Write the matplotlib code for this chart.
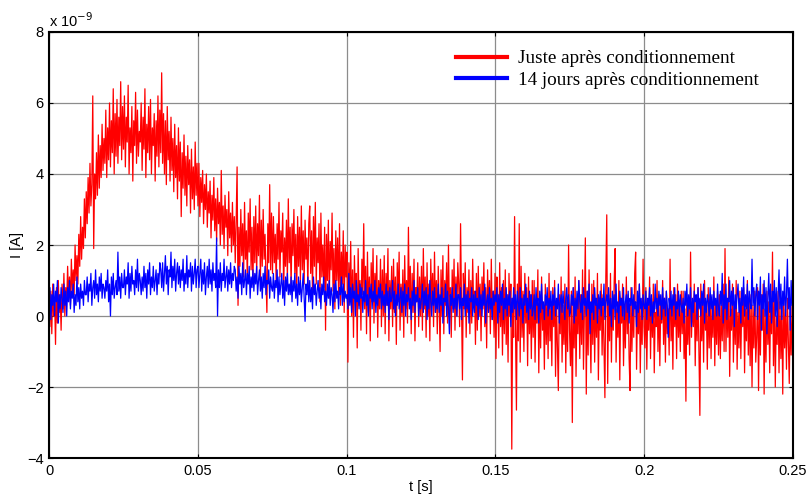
import numpy as np
import matplotlib
matplotlib.use("Agg")
import matplotlib.pyplot as plt

juste_apres = [
    0.4, -0.3, 0.7, -0.5, 0.9, 0.0, 0.5, -0.8, 0.8, -0.2, 1.0, 0.1, 0.6, -0.4, 0.9, 0.2, 1.2, 0.0, 0.8, 0.4,
    1.4, 0.5, 1.1, 0.3, 1.6, 0.7, 1.3, 0.6, 2.0, 1.0, 1.7, 0.9, 2.3, 1.4, 2.8, 1.6, 2.5, 1.9, 3.3, 2.2,
    3.5, 2.6, 3.9, 2.9, 4.3, 3.1, 3.7, 6.2, 1.9, 4.0, 3.3, 4.6, 3.4, 5.1, 3.6, 4.8, 3.9, 5.4, 4.1, 5.0,
    4.3, 5.8, 3.9, 5.3, 4.4, 6.0, 4.2, 5.5, 4.6, 6.4, 4.0, 5.7, 4.5, 6.1, 4.3, 5.6, 4.8, 6.6, 4.4, 5.9,
    4.7, 6.2, 4.2, 5.6, 4.9, 6.5, 4.0, 5.3, 4.6, 5.9, 3.8, 5.5, 4.8, 6.3, 4.3, 5.8, 4.5, 5.2, 4.9, 6.0,
    4.1, 5.6, 4.7, 6.4, 3.9, 5.4, 4.6, 5.9, 4.4, 6.1, 4.0, 5.3, 4.8, 5.7, 3.8, 5.5, 4.5, 6.2, 4.2, 5.8,
    4.6, 6.85, 4.3, 5.7, 4.0, 5.5, 3.7, 5.9, 4.4, 5.2, 3.8, 5.6, 4.1, 5.0, 3.5, 5.4, 3.9, 4.8, 3.3, 5.3,
    3.8, 4.9, 2.8, 4.6, 3.6, 5.1, 3.4, 4.5, 3.1, 4.8, 3.7, 4.4, 2.9, 4.7, 3.3, 4.2, 3.0, 4.9, 3.4, 4.3,
    3.1, 4.3, 2.8, 3.9, 3.2, 4.1, 2.6, 3.7, 3.0, 4.0, 2.5, 3.5, 2.9, 3.8, 2.2, 3.4, 2.7, 3.9, 2.4, 3.3,
    2.1, 3.6, 2.6, 3.2, 2.0, 4.1, 2.3, 3.1, 1.9, 3.4, 2.5, 3.0, 1.7, 3.5, 2.2, 2.9, 1.8, 3.2, 2.0, 2.8,
    1.5, 2.7, 4.2, 0.3, 2.5, 1.4, 3.0, 1.7, 2.6, 1.1, 3.2, 1.6, 2.4, 1.0, 2.9, 1.8, 3.3, 1.3, 2.5, 0.9,
    2.8, 1.5, 3.1, 1.2, 2.6, 1.7, 3.4, 1.0, 2.7, 1.4, 3.0, 1.6, 2.3, 1.1, 0.1, 2.6, 1.5, 3.7, 1.3, 2.9,
    1.2, 2.8, 1.5, 2.3, 0.9, 2.6, 1.6, 3.2, 1.1, 2.4, 1.8, 2.9, 0.7, 2.2, 1.4, 2.7, 1.0, 3.3, 1.5, 2.5,
    0.8, 2.6, 1.7, 3.0, 1.2, 2.3, 0.6, 2.8, 1.4, 2.5, 1.0, 3.1, 1.3, 2.4, 0.9, 2.7, 1.6, 2.2, 0.8, 2.6,
    3.1, 1.2, 2.4, 0.6, 2.8, 1.4, 3.2, 0.9, 2.2, 1.5, 2.6, 0.4, 2.9, 1.1, 2.0, 0.8, 2.5, -0.4, 2.3, 1.0,
    2.7, 0.5, 2.1, 1.3, 2.9, 0.7, 1.9, 0.2, 2.4, 1.0, 2.2, 0.6, 2.6, 0.3, 1.8, 0.9, 2.4, 0.1, 2.0, 1.1,
    1.8, -1.3, 1.5, 0.4, 2.1, 0.0, 1.3, -0.6, 1.7, 0.5, 1.2, -0.9, 1.9, 0.3, 1.0, -0.4, 1.6, 0.6, 2.6, 0.2,
    1.4, -0.5, 1.8, 0.1, 1.1, -0.7, 1.5, 0.4, 1.9, -0.2, 1.2, 0.5, 1.7, -0.6, 1.0, 0.2, 1.6, -0.3, 1.3, 0.0,
    1.7, -0.5, 1.2, 0.3, 1.9, -0.7, 1.0, 0.2, 1.4, -0.3, 1.6, 0.1, 1.1, -0.8, 1.5, 0.4, 1.8, -0.4, 0.9, 0.0,
    1.3, -0.6, 1.7, 0.2, 1.0, -0.2, 2.5, 0.3, 1.4, -0.5, 1.2, 0.1, 1.6, -0.7, 0.8, 0.4, 1.5, -0.3, 1.1, 0.0,
    1.4, -0.4, 1.9, 0.2, 1.1, -0.6, 1.5, 0.0, 0.9, -0.7, 1.6, 0.3, 1.2, -0.3, 1.8, 0.1, 1.0, -0.5, 1.4, 0.4,
    -1.0, 1.3, 0.0, 1.7, -0.5, 1.0, 0.3, 1.5, -0.2, 2.0, 0.1, 0.8, -0.6, 1.3, 0.2, 1.6, -0.4, 1.1, 0.0, 1.5,
    0.9, -0.3, 2.6, 0.4, -1.8, 1.2, 0.2, 1.5, -0.6, 0.8, 0.1, 1.3, -0.5, 1.0, -0.2, 1.6, 0.3, 0.7, -0.8, 1.2,
    -0.4, 1.4, 0.0, 0.9, -0.7, 1.1, 0.2, 1.5, -0.3, 0.8, -0.9, 1.3, 0.1, 1.0, -0.5, 1.6, -0.1, 0.7, -0.6, 1.2,
    -1.2, 1.1, 0.4, -0.9, 1.5, -0.3, 0.8, -1.1, 1.0, -0.5, 1.3, -0.8, 0.6, -1.3, 1.2, 0.0, 0.9, -3.75, 0.5, -0.6,
    2.8, -0.4, -2.65, 0.9, -0.7, 2.6, -1.3, 1.4, -0.6, 0.7, -1.0, 1.2, -0.2, 0.8, -1.4, 1.1, -0.5, 0.6, -1.2, 1.0,
    -0.6, 1.0, -1.3, 0.4, -0.2, 1.3, -1.6, 0.6, -0.9, 1.1, -0.4, 0.3, -1.5, 0.9, -0.8, 0.5, -1.2, 1.2, -0.7, 0.2,
    -1.4, 0.8, -0.3, 1.0, -1.7, 0.4, -0.9, -2.1, 0.6, -0.5, 1.1, -1.3, 0.3, -0.8, 0.9, -1.6, 0.5, -1.0, 2.0, -0.4,
    -1.4, 0.7, -3.0, 0.8, -0.9, 1.1, -1.7, 0.4, -0.5, 1.0, -1.2, 0.6, -0.8, 1.3, -1.5, 0.2, 2.2, -2.2, 0.7, -1.1,
    1.3, -0.3, -1.6, 0.9, -0.8, 1.0, -1.3, 0.5, -0.6, 1.2, -1.8, 0.3, -0.4, 0.9, -1.1, 0.6, -0.9, -2.3, 1.1, 2.85,
    -1.9, 0.6, -0.7, 1.2, -1.3, 0.5, -0.4, 1.0, 1.9, -1.3, 0.2, -0.6, 1.0, -1.8, 0.5, -0.2, 0.9, -1.4, 0.3, -0.9,
    1.1, -0.5, 0.6, -1.2, -2.1, 0.8, -1.0, 0.4, -0.6, 1.2, 1.8, -1.5, 0.3, -0.5, 0.9, -1.6, 0.2, -0.8, 1.6, -0.3,
    -0.9, 0.8, -1.5, 0.3, -0.4, 1.1, -1.2, 0.5, -0.6, 0.9, -1.6, 0.1, -0.3, 1.0, -1.0, 0.6, -1.4, 0.4, -0.2, 1.0,
    -0.8, 0.5, -1.3, 0.7, -0.5, 0.2, -1.1, 1.6, -0.7, 0.4, -1.5, 0.8, -0.3, 0.6, -1.2, 0.9, -0.6, 0.3, -1.0, 0.7,
    -0.5, 0.7, -1.2, 0.2, -2.4, 0.6, -0.8, 0.4, -1.1, 1.8, -0.6, 0.4, -0.3, 0.9, -1.4, 0.5, -0.7, 0.8, -1.0, -2.8,
    0.9, -0.7, 0.5, -1.3, 1.0, -0.4, 0.2, -1.5, 0.8, -0.9, 0.6, -1.2, 0.3, -0.6, 1.1, -1.4, 0.4, -0.8, 0.7, -1.1,
    0.6, -1.2, 0.3, -0.7, 0.9, -1.0, 1.9, -1.0, 0.5, -0.6, 1.1, -1.7, 0.2, -0.4, 0.9, -1.3, 0.4, -0.8, 1.0, -1.5,
    0.1, -0.9, 0.7, -1.2, 0.5, -0.3, 0.8, -1.6, 0.2, -0.7, 1.0, -1.1, 0.4, -1.4, 0.6, -2.0, 0.3, -0.9, 0.7, -1.3,
    -0.6, 0.8, -2.1, 0.3, -1.1, 0.6, -0.4, 0.9, -2.2, 0.2, -1.3, 0.7, -0.8, 0.4, -1.6, 0.5, -0.5, 1.8, -1.4, 0.5,
    -2.0, 0.0, -0.8, 0.7, -1.6, 0.4, -1.2, 0.3, -2.2, 0.6, -0.9, 0.2, -1.5, 0.5, -0.7, -1.9, 0.1, -1.1, 0.3, -1.3,
]

quatorze_jours = [
    0.2, 0.8, -0.1, 0.6, 0.3, 0.9, 0.0, 0.7, 0.4, 1.0, -0.2, 0.6, 0.2, 0.8, 0.5, 0.1, 0.9, 0.3, 0.7, 0.0,
    0.8, 0.4, 1.0, 0.2, 0.7, 0.5, 0.9, 0.1, 0.6, 0.3, 1.1, 0.4, 0.8, 0.2, 0.9, 0.5, 0.7, 0.3, 1.0, 0.6,
    0.6, 1.1, 0.4, 0.9, 0.7, 1.2, 0.3, 0.8, 1.0, 0.5, 1.3, 0.6, 0.9, 0.4, 1.1, 0.7, 1.2, 0.5, 0.9, 0.8,
    0.5, 1.0, 0.7, 1.3, 0.4, 0.9, 0.0, 1.1, 0.6, 1.2, 0.5, 0.8, 1.0, 0.6, 1.8, 0.7, 1.1, 0.5, 1.2, 0.8,
    0.8, 1.3, 0.6, 1.1, 0.9, 1.5, 0.5, 1.2, 0.7, 1.4, 0.9, 1.0, 0.6, 1.3, 0.8, 1.6, 0.7, 1.2, 1.0, 0.6,
    1.1, 0.7, 1.4, 0.8, 1.2, 0.5, 1.3, 0.9, 1.5, 0.6, 1.1, 0.8, 1.4, 0.7, 1.0, 1.3, 0.6, 1.2, 0.9, 1.5,
    1.3, 0.8, 1.5, 0.7, 1.2, 1.7, 0.9, 1.4, 0.6, 1.3, 1.1, 1.8, 0.8, 1.4, 1.0, 1.6, 0.7, 1.2, 1.5, 0.9,
    1.4, 0.8, 1.3, 1.0, 1.6, 0.7, 1.2, 0.9, 1.7, 0.8, 1.3, 1.1, 1.5, 0.7, 1.4, 0.9, 1.2, 1.6, 0.8, 1.3,
    1.4, 0.8, 1.2, 1.6, 0.7, 1.3, 0.9, 1.5, 0.6, 1.1, 1.4, 0.8, 1.6, 0.9, 1.3, 0.7, 1.5, 1.0, 1.2, 0.8,
    2.2, 0.0, 1.3, 0.8, 1.5, 0.7, 1.2, 1.0, 1.6, 0.8, 1.1, 1.4, 0.7, 1.3, 0.9, 1.5, 0.8, 1.2, 1.0, 1.4,
    1.3, 0.7, 1.1, 0.5, 1.4, 0.9, 1.2, 0.6, 1.5, 0.8, 1.0, 1.3, 0.6, 1.2, 0.9, 1.4, 0.5, 1.1, 0.8, 1.3,
    0.7, 1.2, 0.9, 1.4, 0.6, 1.0, 1.3, 0.7, 1.1, 0.5, 1.2, 0.8, 1.4, 0.6, 1.0, 0.9, 1.3, 0.5, 1.1, 0.8,
    0.7, 1.2, 0.5, 1.0, 0.8, 1.3, 0.4, 1.1, 0.6, 0.9, 1.2, 0.5, 1.0, 0.3, 1.1, 0.7, 1.2, 0.6, 0.9, 0.6,
    1.1, 0.4, 1.0, 0.7, 1.2, 0.5, 0.9, 0.3, 1.1, 0.6, 1.0, 0.4, 0.8, 1.2, 0.5, -0.15, 0.9, 0.6, 1.1, 0.4,
    1.0, 0.4, 0.8, 0.2, 1.1, 0.6, 0.9, 0.3, 0.7, 1.0, 0.5, 0.8, 0.2, 0.9, 0.6, 1.1, 0.4, 0.7, 0.3, 0.9,
    0.5, 1.0, 0.3, 0.8, 0.6, 0.1, 0.9, 0.4, 1.0, 0.5, 0.7, 0.2, 0.8, 0.6, 1.1, 0.3, 0.9, 0.4, 0.7, 0.5,
    0.6, 0.2, 1.2, 0.3, 0.8, 0.1, 0.9, 0.5, 0.7, 0.0, 1.0, 0.4, 0.6, 0.2, 0.9, 0.5, 0.8, 0.1, 0.7, 0.4,
    1.0, 0.3, 0.6, 0.0, 0.8, 0.5, 0.9, 0.2, 0.7, 0.4, 1.0, 0.1, 0.6, 0.3, 0.8, 0.5, 0.9, 0.2, 0.7, 0.3,
    0.6, 0.1, 0.9, 0.3, 0.7, -0.1, 0.8, 0.4, 0.5, 1.0, 0.2, 0.7, 0.0, 0.6, 0.3, 0.9, 0.2, 0.5, 0.8, 0.1,
    0.7, 0.3, 0.9, 0.0, 0.6, 0.4, 0.8, 0.2, 0.5, -0.1, 0.7, 0.3, 1.0, 0.1, 0.6, 0.4, 0.8, 0.0, 0.5, 0.2,
    0.5, 0.9, 0.1, 0.7, 0.3, 0.8, -0.1, 0.6, 0.2, 1.0, 0.4, 0.0, 0.7, 0.3, 0.8, 0.1, 0.5, 0.2, 0.9, 0.1,
    0.6, 0.3, 0.8, -0.2, 0.5, 0.4, 0.9, 0.0, 0.7, 0.2, -0.5, 0.6, 0.3, 0.8, 0.1, 0.5, 0.2, 0.9, 0.0, 0.6,
    0.6, 0.2, 0.8, -0.1, 0.5, 0.3, 0.9, 0.0, 0.6, 0.2, 0.7, -0.2, 0.5, 0.4, 0.8, 0.0, 0.6, 0.1, 0.7, 0.3,
    0.5, -0.1, 0.8, 0.2, 0.6, 0.0, 0.7, 0.3, 0.9, -0.2, 0.4, 0.6, 0.1, 0.8, 0.2, 0.5, -0.1, 0.7, 0.3, 0.6,
    0.4, 0.8, -0.2, 0.6, 0.1, 0.7, 0.3, 0.9, -0.1, 0.5, 0.2, 0.8, 0.0, 0.6, 0.3, 0.7, -0.3, 0.5, 0.1, 0.8,
    0.2, 0.6, -0.1, 0.7, 0.4, 0.0, 0.8, 0.2, 0.5, -0.2, 0.6, 0.3, 0.9, 0.1, 0.5, -0.1, 0.7, 0.2, 0.6, 0.0,
    0.2, 0.6, -0.1, 0.8, 0.3, 0.5, -0.2, 0.7, 0.1, 0.9, 0.2, 0.4, -0.1, 0.6, 0.3, 0.8, 0.0, 0.5, 0.2, 0.7,
    -0.1, 0.6, 0.3, 0.8, 0.0, 0.5, 0.2, 0.9, -0.2, 0.4, 0.6, 0.1, 0.7, 0.3, -0.1, 0.5, 0.8, 0.2, 0.6, 0.0,
    0.1, 0.6, 0.3, 0.8, -0.2, 0.5, 0.0, 0.7, 0.2, 1.0, 0.4, 0.1, 0.6, -0.1, 0.8, 0.3, 0.5, 0.0, 0.7, 0.2,
    0.9, -0.5, 0.4, 0.1, 0.6, -0.1, 0.8, 0.3, 0.5, -0.2, 0.6, 0.2, 0.7, 0.0, 0.5, 0.3, 0.9, -0.1, 0.4, 0.6,
    0.3, 0.8, 0.0, 0.5, -0.3, 0.7, 0.2, 0.6, -0.1, 0.9, 0.1, 0.4, -0.2, 0.7, 0.3, 0.5, 0.0, 0.8, -0.1, 0.4,
    0.6, 0.1, 0.7, -0.2, 0.5, 0.3, 0.8, 0.0, 0.6, 0.2, 0.4, -0.3, 0.7, 0.1, 0.9, 0.2, 0.5, -0.1, 0.6, 0.3,
    0.2, 0.7, -0.1, 0.5, 0.3, 0.8, 0.0, 0.6, -0.2, 0.4, 0.1, 0.9, 0.2, 0.5, 0.0, 0.7, 0.3, 0.6, -0.1, 0.8,
    0.2, 0.5, 0.0, 0.7, 0.3, -0.6, 0.5, 0.2, 0.7, 0.0, 0.6, 0.3, 0.8, -0.1, 0.4, 0.2, 0.7, 0.0, 0.6, 0.3,
    0.1, 0.5, -0.2, 0.7, 0.3, 0.9, 0.0, 0.6, 0.2, 0.8, -0.3, 0.5, 0.1, 0.7, 0.4, 0.6, -0.1, 0.8, 0.2, 0.5,
    0.0, 0.7, 0.3, 0.9, -0.2, 0.5, 0.1, 0.6, 0.4, 0.0, 0.8, 0.2, 0.6, -0.1, 0.7, 0.3, 0.5, 0.0, 0.9, 0.2,
    0.0, 0.7, 0.3, 1.2, -0.2, 0.6, 0.2, 0.9, -0.1, 0.5, 0.4, 1.0, 0.0, 0.7, 0.3, 0.8, -0.3, 0.6, 0.2, 0.6,
    0.9, 0.1, 0.5, -0.2, 0.8, 0.3, 1.1, 0.0, 0.6, 0.2, 0.9, -0.1, 0.7, 0.4, 0.2, 1.6, 0.3, 0.8, 0.0, 0.6,
    0.9, -0.1, 0.7, 0.3, 1.1, -0.4, 0.6, 0.2, 1.0, 0.0, 0.8, -0.5, 0.5, 1.2, 0.1, 0.9, -0.2, 0.7, 0.4, 1.0,
    0.0, 0.8, -0.3, 0.6, 1.3, 0.2, 0.9, -0.1, 0.7, 0.3, 1.1, 0.0, 0.6, 1.6, 0.2, 0.8, -0.4, 1.0, 0.3, 0.7,
]

t_debut = 0.0
t_fin = 0.25
x_ticks = [0, 0.05, 0.1, 0.15, 0.2, 0.25]
x_labels = ["0", "0.05", "0.1", "0.15", "0.2", "0.25"]
y_ticks = [-4, -2, 0, 2, 4, 6, 8]
noms = ["Juste après conditionnement", "14 jours après conditionnement"]

tempo = np.linspace(t_debut, t_fin, len(juste_apres))

plt.rcParams["font.family"] = ["Liberation Sans", "DejaVu Sans"]
fig = plt.figure(figsize=(8.1, 4.95), dpi=100)
ax = fig.add_axes([0.0605, 0.0747, 0.9185, 0.8607])

ax.grid(True, color="#8c8c8c", linewidth=0.9, linestyle="-")
ax.set_axisbelow(True)

ax.plot(tempo, juste_apres, color="#ff0000", linewidth=0.9)
ax.plot(tempo, quatorze_jours, color="#0000ff", linewidth=0.9)

ax.set_xlim(t_debut, t_fin)
ax.set_ylim(-4, 8)
ax.set_xticks(x_ticks)
ax.set_xticklabels(x_labels)
ax.set_yticks(y_ticks)
ax.tick_params(direction="in", length=3, labelsize=10.5, top=True, right=True, pad=4)
for s in ax.spines.values():
    s.set_linewidth(1.5)

ax.text(0.0, 1.004, r"x 10$^{-9}$", transform=ax.transAxes, fontsize=10.5,
        ha="left", va="bottom")
ax.set_ylabel("I [A]", fontsize=10.5, labelpad=2)
ax.set_xlabel("t [s]", fontsize=10.5, labelpad=2)

h1, = ax.plot([], [], color="#ff0000", linewidth=3)
h2, = ax.plot([], [], color="#0000ff", linewidth=3)
ax.legend([h1, h2], noms, loc="upper right", bbox_to_anchor=(0.977, 0.998),
          frameon=False, handlelength=2.7, handletextpad=0.55, labelspacing=0.2,
          prop={"family": ["Liberation Serif", "DejaVu Serif"], "size": 13.8})

plt.savefig("out.png", dpi=100)
plt.close()
